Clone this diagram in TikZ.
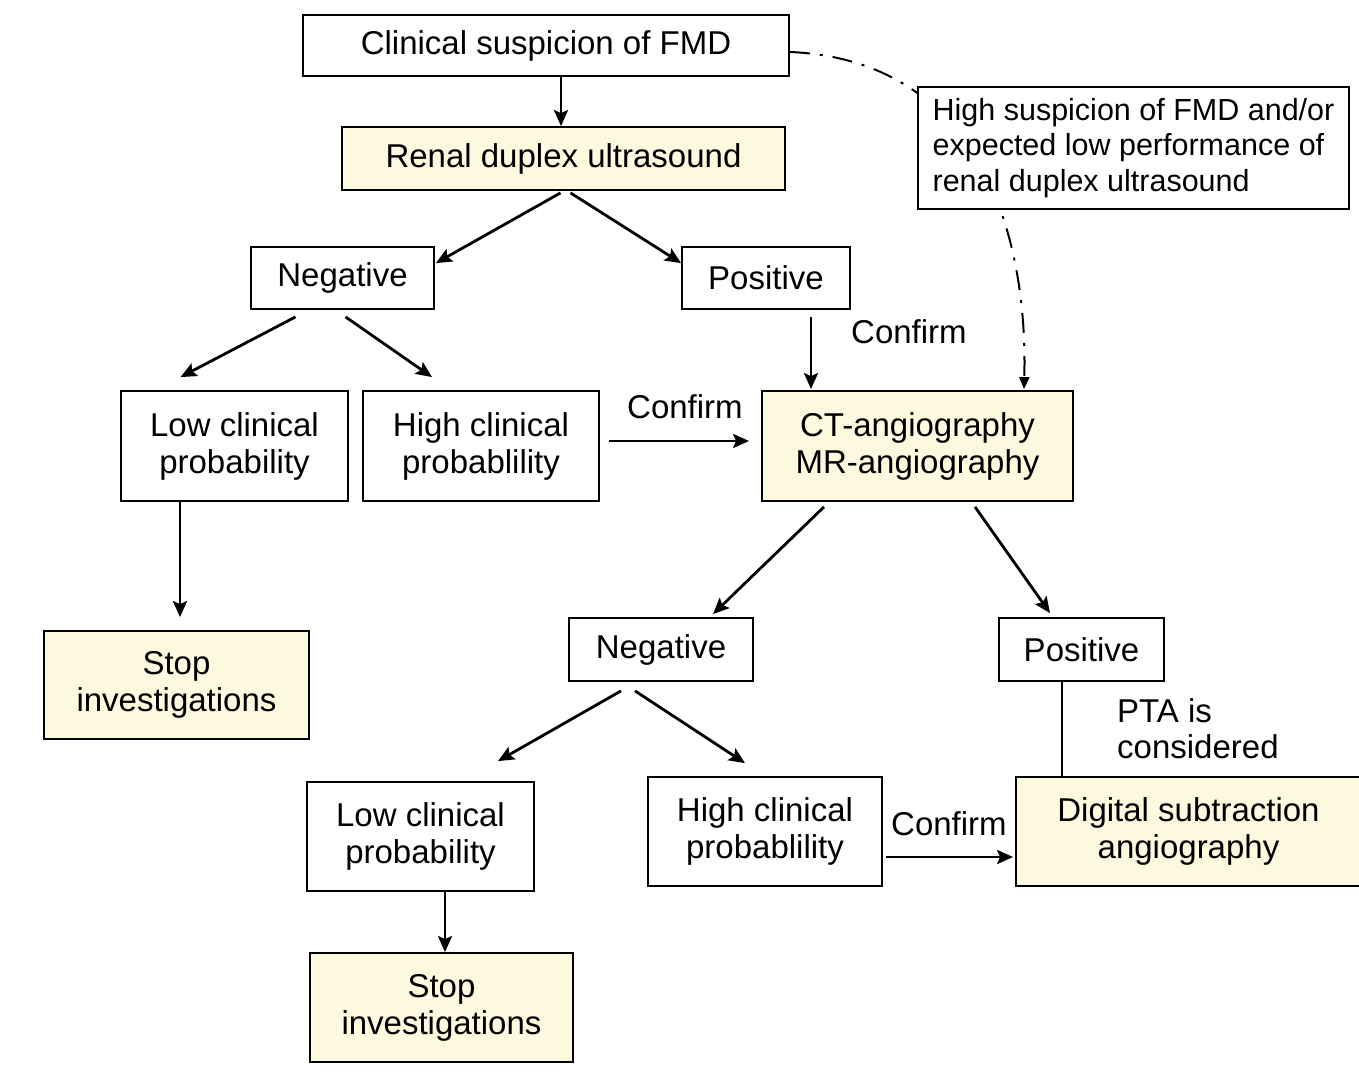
\documentclass[tikz,border=0pt]{standalone}
\usepackage{fontspec}
\setmainfont{Liberation Sans}
\usetikzlibrary{arrows.meta,calc}
\definecolor{boxfill}{RGB}{252,249,222}
\begin{document}
\begin{tikzpicture}[x=1pt,y=-1pt,
  box/.style={draw=black, line width=1.8pt, fill=white, inner sep=0pt,
    font=\fontsize{33}{37}\selectfont, align=center},
  hl/.style={box, fill=boxfill},
  arr/.style={line width=2.8pt, -{Stealth[length=16pt,width=14pt,inset=3pt]}},
  plain/.style={line width=2.8pt},
  lbl/.style={font=\fontsize{33}{36}\selectfont, inner sep=0pt, anchor=base west, align=left}]
\useasboundingbox (0,0) rectangle (1359,1075);

% boxes
\node[box, minimum width=486pt, minimum height=61pt] (clin) at (546,45.5) {Clinical suspicion of FMD};
\node[hl, minimum width=443pt, minimum height=63pt] (renal) at (563.5,158.5) {Renal duplex ultrasound};
\node[box, minimum width=183pt, minimum height=62pt] (neg1) at (342.5,278) {Negative};
\node[box, minimum width=168pt, minimum height=62pt] (pos1) at (766,278) {Positive};
\node[box, minimum width=227pt, minimum height=110pt] (low1) at (234.5,446) {Low clinical\\probability};
\node[box, minimum width=236pt, minimum height=110pt] (high1) at (481,446) {High clinical\\probablility};
\node[hl, minimum width=311pt, minimum height=110pt] (ct) at (917.5,446) {CT-angiography\\MR-angiography};
\node[hl, minimum width=265pt, minimum height=108pt] (stop1) at (176.5,685) {Stop\\investigations};
\node[box, minimum width=184pt, minimum height=63pt] (neg2) at (661,649.5) {Negative};
\node[box, minimum width=165pt, minimum height=63pt] (pos2) at (1081.5,649.5) {Positive};
\node[box, minimum width=227pt, minimum height=109pt] (low2) at (420.5,836.5) {Low clinical\\probability};
\node[box, minimum width=234pt, minimum height=109pt] (high2) at (765,831.5) {High clinical\\probablility};
\node[hl, minimum width=345pt, minimum height=109pt] (dsa) at (1188.5,831.5) {Digital subtraction\\angiography};
\node[hl, minimum width=263pt, minimum height=109pt] (stop2) at (441.5,1007.5) {Stop\\investigations};

% dash-dotted bypass, passing behind the note box
\draw[line width=2pt, dash pattern=on 20pt off 10pt on 3pt off 10pt,
      -{Triangle[length=12pt,width=10pt]}]
  ($(clin.east)+(0,6.5)$) .. controls (980,60) and (1028,235) .. ($(ct.north)+(106.5,-1)$);
\node[box, font=\fontsize{30.5}{35.5}\selectfont, align=left,
      minimum width=431pt, minimum height=122pt] (susp) at (1133.5,148)
  {High suspicion of FMD and/or\\expected low performance of\\renal duplex ultrasound};

% connectors
\draw[arr] (clin.south -| 561,0) -- (renal.north -| 561,0);
\draw[arr] ($(renal.south)+(-3,2)$) -- ($(neg1.north east)+(1,17)$);
\draw[arr] ($(renal.south)+(7,2)$) -- ($(pos1.north west)+(0,17)$);
\draw[arr] ($(neg1.south)+(-47,7)$) -- ($(low1.north)+(-54,-13)$);
\draw[arr] ($(neg1.south)+(3,7)$) -- ($(high1.north)+(-49,-13)$);
\draw[arr] ($(pos1.south)+(45,7)$) -- ($(ct.north)+(-106.5,-1)$);
\draw[arr] ($(high1.east)+(9,-5)$) -- ($(ct.west)+(-12,-5)$);
\draw[arr] ($(low1.south)+(-54.5,0)$) -- ($(stop1.north)+(3.5,-13)$);
\draw[arr] ($(ct.south)+(-93.5,5)$) -- ($(neg2.north)+(52,-3)$);
\draw[arr] ($(ct.south)+(57.5,5)$) -- ($(pos2.north)+(-31.5,-4)$);
\draw[arr] ($(neg2.south)+(-40,9)$) -- ($(low2.north)+(77.5,-20)$);
\draw[arr] ($(neg2.south)+(-26,9)$) -- ($(high2.north)+(-20,-13)$);
\draw[arr] ($(low2.south)+(24.5,0)$) -- ($(stop2.north)+(3.5,0)$);
\draw[plain] ($(pos2.south)+(-19.5,0)$) -- ($(dsa.north)+(-126.5,0)$);
\draw[arr] ($(high2.east)+(3,25.5)$) -- ($(dsa.west)+(-2,25.5)$);

% connector labels
\node[lbl] (c1) at (851,343) {Confirm};
\node[lbl] (c2) at (627,418) {Confirm};
\node[lbl] (c3) at (891,835) {Confirm};
\node[lbl] (pta) at (1117,758) {PTA is\\considered};
\end{tikzpicture}
\end{document}
